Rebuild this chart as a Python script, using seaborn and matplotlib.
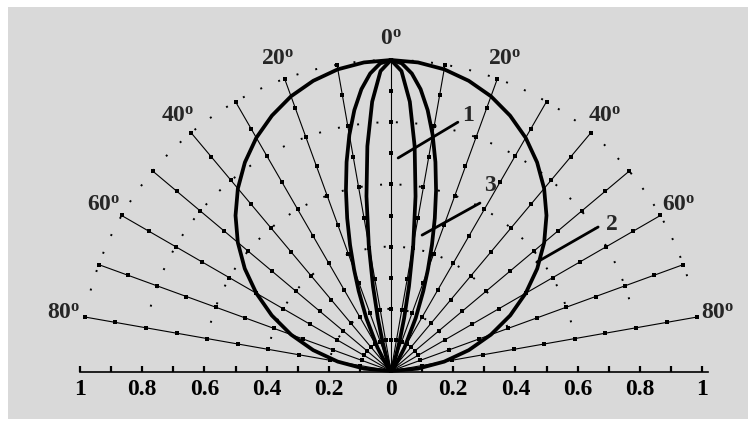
import numpy as np
import pandas as pd
import matplotlib
matplotlib.use("Agg")
import matplotlib.pyplot as plt
import seaborn as sns
from matplotlib.patches import Rectangle
from matplotlib.ticker import FixedLocator

# Angular grid (degrees from the axis of the antenna)
grid_angles = [-80, -70, -60, -50, -40, -30, -20, -10, 0, 10, 20, 30, 40, 50, 60, 70, 80]
grid_marks = [0.1, 0.2, 0.3, 0.4, 0.5, 0.6, 0.7, 0.8, 0.9, 1.0]
arc_radii = [0.2, 0.4, 0.6, 0.8, 1.0]
label_angles = [-80, -60, -40, -20, 0, 20, 40, 60, 80]

# Normalised radiation patterns, one half (symmetric about 0 deg)
lobe1_angles = [0, 2, 4, 6, 8, 10, 12, 14, 16, 18, 20, 25, 30, 90]
lobe1_radius = [1.000, 0.965, 0.868, 0.727, 0.567, 0.412, 0.278, 0.174, 0.101, 0.054, 0.027, 0.003, 0.0, 0.0]

lobe3_angles = [0, 2, 4, 6, 8, 10, 12, 14, 16, 18, 20, 22, 25, 30, 35, 40, 50, 90]
lobe3_radius = [1.000, 0.990, 0.959, 0.911, 0.847, 0.771, 0.687, 0.599, 0.511, 0.426,
                0.347, 0.277, 0.188, 0.087, 0.034, 0.011, 0.001, 0.0]

lobe2_angles = [0, 5, 10, 15, 20, 25, 30, 35, 40, 45, 50, 55, 60, 65, 70, 75, 80, 85, 90]
lobe2_radius = [1.000, 0.996, 0.985, 0.966, 0.940, 0.906, 0.866, 0.819, 0.766, 0.707,
                0.643, 0.574, 0.500, 0.423, 0.342, 0.259, 0.174, 0.087, 0.0]

# Curve labels and their leader lines (x, y in pattern units)
curve_names = ["1", "3", "2"]
curve_label_xy = [(0.248, 0.822), (0.317, 0.596), (0.711, 0.470)]
leader_from = [(0.215, 0.800), (0.286, 0.540), (0.666, 0.463)]
leader_to = [(0.023, 0.685), (0.100, 0.437), (0.469, 0.350)]

axis_major = [-1.0, -0.8, -0.6, -0.4, -0.2, 0.0, 0.2, 0.4, 0.6, 0.8, 1.0]
axis_minor = [-0.9, -0.7, -0.5, -0.3, -0.1, 0.1, 0.3, 0.5, 0.7, 0.9]
axis_labels = ["1", "0.8", "0.6", "0.4", "0.2", "0", "0.2", "0.4", "0.6", "0.8", "1"]

sns.set_style("white")
plt.rcParams["font.family"] = ["Liberation Serif", "DejaVu Serif"]
plt.rcParams["font.weight"] = "bold"
plt.rcParams["mathtext.fontset"] = "custom"
plt.rcParams["mathtext.rm"] = "Liberation Serif:bold"
plt.rcParams["mathtext.bf"] = "Liberation Serif:bold"
plt.rcParams["mathtext.it"] = "Liberation Serif:italic:bold"

INK = "#000000"
PANEL = "#d9d9d9"


def to_xy(angles_deg, radii):
    t = np.radians(np.asarray(angles_deg, dtype=float))
    r = np.asarray(radii, dtype=float)
    return r * np.sin(t), r * np.cos(t)


def mirrored(angles, radii):
    a = np.asarray(angles, dtype=float)
    r = np.asarray(radii, dtype=float)
    return np.concatenate([-a[::-1], a[1:]]), np.concatenate([r[::-1], r[1:]])


fig = plt.figure(figsize=(7.52, 4.21), dpi=100)
fig.patch.set_facecolor("white")
fig.add_artist(Rectangle((8 / 752, 2 / 421), 740 / 752, 412 / 421,
                         transform=fig.transFigure, facecolor=PANEL,
                         edgecolor="none", zorder=0))
ax = fig.add_axes([0, 0, 1, 1])
ax.set_facecolor("none")

# sparse dotted range circles
for rr in arc_radii:
    th = np.linspace(-75, 75, 200)
    x, y = to_xy(th, np.full_like(th, rr))
    ax.plot(x, y, color=INK, lw=1.4, ls=(0, (1, 9)), zorder=1)

# radial grid lines with small marks every 0.1
rows = []
for a in grid_angles:
    for r in [0.0, 1.0]:
        x, y = to_xy([a], [r])
        rows.append({"angle": a, "x": x[0], "y": y[0]})
rays = pd.DataFrame(rows)
sns.lineplot(data=rays, x="x", y="y", units="angle", estimator=None, sort=False,
             color=INK, lw=0.8, ax=ax, zorder=2)

mrows = []
for a in grid_angles:
    x, y = to_xy([a] * len(grid_marks), grid_marks)
    for xi, yi in zip(x, y):
        mrows.append({"x": xi, "y": yi})
marks = pd.DataFrame(mrows)
sns.scatterplot(data=marks, x="x", y="y", marker="s", s=5, color=INK,
                edgecolor=INK, linewidth=0, ax=ax, zorder=3)

# radiation patterns
for angs, rads in [(lobe2_angles, lobe2_radius), (lobe3_angles, lobe3_radius),
                   (lobe1_angles, lobe1_radius)]:
    a, r = mirrored(angs, rads)
    x, y = to_xy(a, r)
    sns.lineplot(x=x, y=y, sort=False, estimator=None, color=INK, lw=2.7,
                 ax=ax, zorder=4)

# leader lines and curve numbers
for name, (lx, ly), p0, p1 in zip(curve_names, curve_label_xy, leader_from, leader_to):
    ax.plot([p0[0], p1[0]], [p0[1], p1[1]], color=INK, lw=2.0, zorder=5)
    ax.text(lx, ly, name, fontsize=17, fontweight="bold", ha="center", va="center", zorder=6)

# angle labels
for a in label_angles:
    x, y = to_xy([a], [1.068])
    ax.text(x[0], y[0], r"$\mathrm{%d}^{\mathrm{o}}$" % abs(a), fontsize=17,
            ha="center", va="center", zorder=6)

ax.set_xlim(-391 / 311, (752 - 391) / 311)
ax.set_ylim(-50 / 311, 371 / 311)
ax.set_aspect("auto")
for side in ["left", "top", "right"]:
    ax.spines[side].set_visible(False)
ax.spines["bottom"].set_position(("data", -0.004))
ax.spines["bottom"].set_bounds(-1.0, 1.02)
ax.spines["bottom"].set_linewidth(1.2)
ax.spines["bottom"].set_color(INK)
ax.set_yticks([])
ax.xaxis.set_major_locator(FixedLocator(axis_major))
ax.xaxis.set_minor_locator(FixedLocator(axis_minor))
ax.set_xticklabels(axis_labels)
ax.tick_params(axis="x", which="both", direction="in", length=4, width=1.6,
               colors=INK, labelsize=17, pad=5, bottom=True)
for t in ax.get_xticklabels():
    t.set_fontweight("bold")
ax.set_xlabel("")
ax.set_ylabel("")

fig.savefig("out.png", dpi=100)
